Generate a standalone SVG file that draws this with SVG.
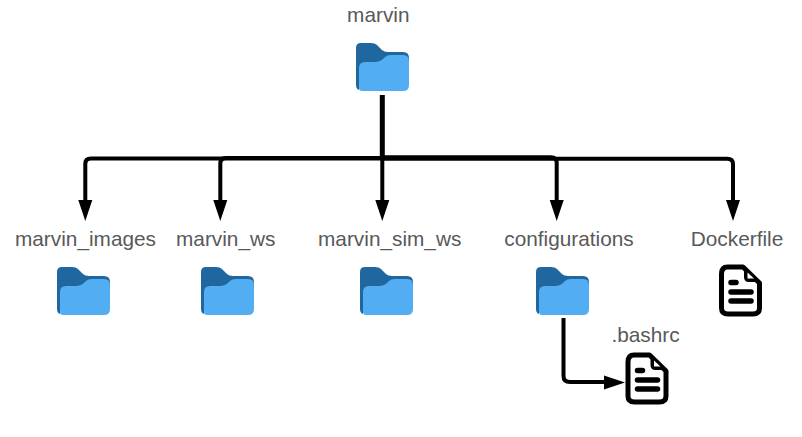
<svg xmlns="http://www.w3.org/2000/svg" width="802" height="437" viewBox="0 0 802 437">
<style>
text{font-family:"Liberation Sans",Arial,sans-serif;font-size:20.8px;fill:#595959;text-anchor:middle}
.c{fill:none;stroke:#000;stroke-width:4}
.b{fill:#000}
</style>
<defs>
<symbol id="folder" overflow="visible">
<path d="M0 5Q0 0 5 0H15Q19 0 21 2L26 7Q28 9 32 9H47Q53 9 53 15V30H3V47Q0 46 0 42Z" fill="#21679f"/>
<path d="M3 25Q3 19 9 19H20Q24 19 27 16L29 14Q31 12 35 12H47Q53 12 53 18V42Q53 48 47 48H6Q3 48 3 45Z" fill="#53adf2"/>
</symbol>
<symbol id="doc" overflow="visible">
<path d="M8.500 2H24L40.500 18V43Q40.500 49 34 49H9Q2.500 49 2.500 43V9Q2.500 2 8.500 2Z" fill="#fff" stroke="#000" stroke-width="5" stroke-linejoin="round"/>
<path d="M25 3V12Q25 17 30 17H40Z" fill="#000"/>
<path d="M28.500 7.500V13.500H35Z" fill="#fff"/>
<path d="M12 17.500H17M12 27H32M12 36H32" fill="none" stroke="#000" stroke-width="5.500" stroke-linecap="round"/>
</symbol>
</defs>
<g id="connectors">
<path class="c" style="stroke-width:5" d="M382.300 95V158"/>
<path class="c" d="M382 158.600H91Q85.300 158.600 85.300 164V203"/>
<path class="c" d="M382 158H226Q220.300 158 220.300 164V203"/>
<path class="c" d="M382.300 158V203"/>
<path class="c" d="M382 157.300H551Q556.700 157.300 556.700 163V203"/>
<path class="c" d="M382 158.700H727Q733 158.700 733 164V203"/>
<path class="c" d="M563.500 318V376Q563.500 382 570 382H606"/>
<path class="b" d="M78.300 200H92.300L85.300 221ZM213.300 200H227.300L220.300 221ZM375.300 200H389.300L382.300 221ZM549.700 200H563.700L556.700 221ZM726 200H740L733 221ZM604 375.500V389.500L625 382.500Z"/>
</g>
<g id="marvin"><use href="#folder" x="356" y="43"/><text x="378.300" y="22">marvin</text></g>
<g id="marvin_images"><use href="#folder" x="57" y="267"/><text x="85.500" y="246">marvin_images</text></g>
<g id="marvin_ws"><use href="#folder" x="201" y="267"/><text x="225.700" y="246">marvin_ws</text></g>
<g id="marvin_sim_ws"><use href="#folder" x="360" y="267"/><text x="389.700" y="246">marvin_sim_ws</text></g>
<g id="configurations"><use href="#folder" x="536" y="267"/><text x="569" y="246">configurations</text></g>
<g id="dockerfile"><use href="#doc" x="719" y="265"/><text x="737" y="246">Dockerfile</text></g>
<g id="bashrc"><use href="#doc" x="625.500" y="353"/><text x="645.500" y="342">.bashrc</text></g>
</svg>
